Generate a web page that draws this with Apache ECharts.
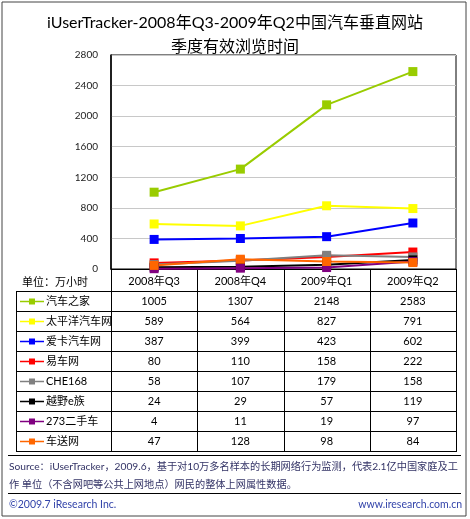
<!DOCTYPE html>
<html>
<head>
    <meta charset="UTF-8">
    <title>中国汽车垂直网站季度有效浏览时间</title>
    <script src="https://cdn.jsdelivr.net/npm/echarts@6/dist/echarts.min.js"></script>
    <style>
        html, body { margin: 0; padding: 0; background: #fff; }
        #main { width: 470px; height: 519px; }
    </style>
</head>
<body>
<div id="main"></div>
<script type="text/javascript">
    // 数据
    var categories = ['2008年Q3', '2008年Q4', '2009年Q1', '2009年Q2'];
    var yTicks = [0, 400, 800, 1200, 1600, 2000, 2400, 2800];
    var siteNames = ['汽车之家', '太平洋汽车网', '爱卡汽车网', '易车网', 'CHE168', '越野e族', '273二手车', '车送网'];
    var qicheZhijia = [1005, 1307, 2148, 2583];
    var taipingyang = [589, 564, 827, 791];
    var aika = [387, 399, 423, 602];
    var yiche = [80, 110, 158, 222];
    var che168 = [58, 107, 179, 158];
    var yueye = [24, 29, 57, 119];
    var ershouche273 = [4, 11, 19, 97];
    var chesong = [47, 128, 98, 84];

    var allValues = [qicheZhijia, taipingyang, aika, yiche, che168, yueye, ershouche273, chesong];
    var colors = ['#99cc00', '#ffff00', '#0000ff', '#ff0000', '#808080', '#000000', '#800080', '#ff6600'];

    var FONT = "Lato, 'Noto Sans CJK SC', sans-serif";
    var gridLeft = 111, gridRight = 456, gridTop = 55, gridBottom = 269;
    var colW = (gridRight - gridLeft) / categories.length;
    var headH = 22, rowH = 20, tableLeft = 16;

    var myChart = echarts.init(document.getElementById('main'));

    // 表格用 graphic 画出来
    var graphics = [];
    var tableBottom = gridBottom + headH + rowH * siteNames.length;
    // 外框
    graphics.push({ type: 'rect', shape: { x: 2, y: 2, width: 464, height: 514 },
        style: { fill: 'none', stroke: '#444', lineWidth: 1 }, silent: true });
    // 竖线
    for (var c = 0; c <= categories.length; c++) {
        var x = Math.round(gridLeft + c * colW) + 0.5;
        graphics.push({ type: 'line', shape: { x1: x, y1: gridBottom, x2: x, y2: tableBottom },
            style: { stroke: '#000', lineWidth: 1 }, silent: true });
    }
    graphics.push({ type: 'line', shape: { x1: tableLeft + 0.5, y1: gridBottom + headH, x2: tableLeft + 0.5, y2: tableBottom },
        style: { stroke: '#000', lineWidth: 1 }, silent: true });
    // 横线
    for (var r = 0; r <= siteNames.length; r++) {
        var y = gridBottom + headH + r * rowH + 0.5;
        graphics.push({ type: 'line', shape: { x1: tableLeft, y1: y, x2: gridRight + 1, y2: y },
            style: { stroke: '#000', lineWidth: 1 }, silent: true });
    }
    // 单位
    graphics.push({ type: 'text', left: 22, top: gridBottom + 8,
        style: { text: '单位：万小时', font: '11px ' + FONT, fill: '#000' }, silent: true });
    // 行内容
    for (var i = 0; i < siteNames.length; i++) {
        var cy = gridBottom + headH + i * rowH + rowH / 2 + 0.5;
        graphics.push({ type: 'line', shape: { x1: 20, y1: cy, x2: 44, y2: cy },
            style: { stroke: colors[i], lineWidth: 1.5 }, silent: true });
        graphics.push({ type: 'rect', shape: { x: 29, y: cy - 3, width: 6, height: 6 },
            style: { fill: colors[i] }, silent: true });
        graphics.push({ type: 'text', x: 46, y: cy,
            style: { text: siteNames[i], font: '11px ' + FONT, fill: '#000', textVerticalAlign: 'middle' }, silent: true });
        for (var j = 0; j < categories.length; j++) {
            graphics.push({ type: 'text', x: gridLeft + (j + 0.5) * colW, y: cy,
                style: { text: String(allValues[i][j]), font: '11px ' + FONT, fill: '#000',
                    textAlign: 'center', textVerticalAlign: 'middle' }, silent: true });
        }
    }
    // 脚注
    graphics.push({ type: 'line', shape: { x1: 8, y1: 455.5, x2: 461, y2: 455.5 },
        style: { stroke: '#000', lineWidth: 1 }, silent: true });
    graphics.push({ type: 'text', x: 9, y: 467,
        style: { text: 'Source：iUserTracker，2009.6，基于对10万多名样本的长期网络行为监测，代表2.1亿中国家庭及工',
            font: '10.2px ' + FONT, fill: '#333366', textVerticalAlign: 'middle' }, silent: true });
    graphics.push({ type: 'text', x: 9, y: 485,
        style: { text: '作 单位（不含网吧等公共上网地点）网民的整体上网属性数据。',
            font: '10.2px ' + FONT, fill: '#333366', textVerticalAlign: 'middle' }, silent: true });
    graphics.push({ type: 'line', shape: { x1: 8, y1: 493.5, x2: 461, y2: 493.5 },
        style: { stroke: '#000', lineWidth: 1 }, silent: true });
    graphics.push({ type: 'text', x: 9, y: 505,
        style: { text: '©2009.7 iResearch Inc.', font: '10.5px ' + FONT, fill: '#3344aa', textVerticalAlign: 'middle' }, silent: true });
    graphics.push({ type: 'text', x: 462, y: 505,
        style: { text: 'www.iresearch.com.cn', font: '10.5px ' + FONT, fill: '#3344aa',
            textAlign: 'right', textVerticalAlign: 'middle' }, silent: true });

    var Series = [];
    for (var k = 0; k < siteNames.length; k++) {
        Series.push({
            name: siteNames[k],
            type: 'line',
            data: allValues[k],
            symbol: 'rect',
            symbolSize: 9,
            lineStyle: { color: colors[k], width: 2 },
            itemStyle: { color: colors[k] },
            animation: false
        });
    }

    var option = {
        backgroundColor: '#fff',
        title: {
            text: 'iUserTracker-2008年Q3-2009年Q2中国汽车垂直网站\n季度有效浏览时间',
            left: 'center',
            top: 6,
            textStyle: { fontFamily: FONT, fontSize: 16, fontWeight: 'normal', color: '#000', lineHeight: 24 }
        },
        grid: {
            left: gridLeft, top: gridTop, width: gridRight - gridLeft, height: gridBottom - gridTop,
            show: true, borderColor: '#000', borderWidth: 1, containLabel: false
        },
        xAxis: {
            type: 'category',
            data: categories,
            boundaryGap: true,
            axisLine: { lineStyle: { color: '#000' } },
            axisTick: { show: false },
            axisLabel: { margin: 7, fontFamily: FONT, fontSize: 11, color: '#000', interval: 0 }
        },
        yAxis: {
            type: 'value',
            min: yTicks[0],
            max: yTicks[yTicks.length - 1],
            interval: 400,
            axisLine: { show: true, lineStyle: { color: '#000', width: 1.5 } },
            axisTick: { show: false },
            axisLabel: {
                margin: 13, fontFamily: FONT, fontSize: 10, color: '#222',
                formatter: function (v) { return String(v); }
            },
            splitLine: { lineStyle: { color: '#c8c8c8' } }
        },
        graphic: graphics,
        series: Series
    };
    myChart.setOption(option);
</script>
</body>
</html>
